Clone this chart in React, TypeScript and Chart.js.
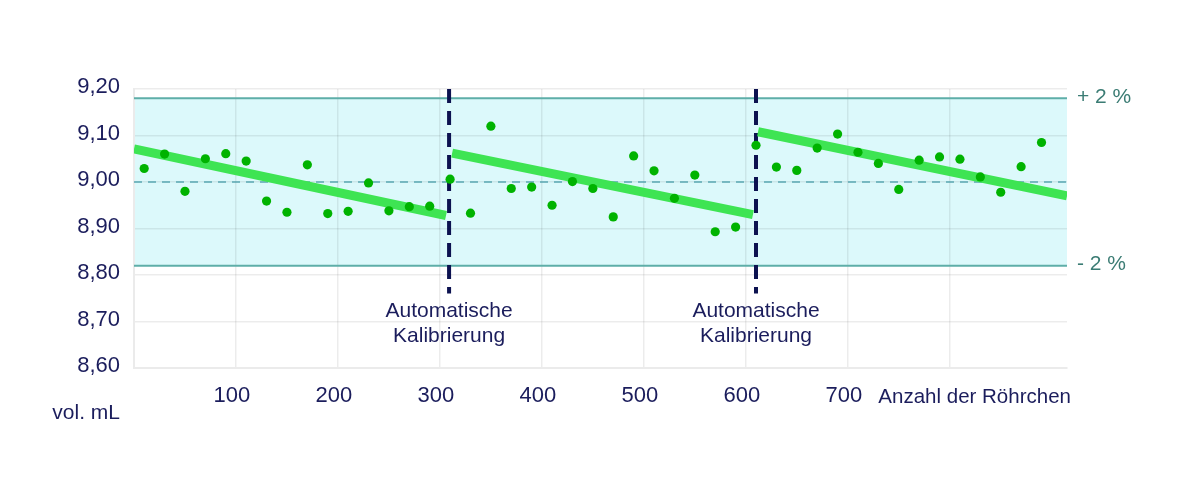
import React, { useEffect, useRef } from "react";
import { Chart, registerables } from "chart.js";

Chart.register(...registerables);

// ---- data ----
const tubeCounts = [10, 30, 50, 70, 90, 110, 130, 150, 170, 190, 210, 230, 250, 270, 290, 310, 330, 350, 370, 390, 410, 430, 450, 470, 490, 510, 530, 550, 570, 590, 610, 630, 650, 670, 690, 710, 730, 750, 770, 790, 810, 830, 850, 870, 890];
const volumes = [9.029, 9.06, 8.98, 9.05, 9.061, 9.045, 8.959, 8.935, 9.037, 8.932, 8.937, 8.998, 8.938, 8.947, 8.948, 9.006, 8.933, 9.12, 8.986, 8.989, 8.95, 9.001, 8.986, 8.925, 9.056, 9.024, 8.965, 9.015, 8.893, 8.903, 9.079, 9.032, 9.025, 9.073, 9.103, 9.064, 9.04, 8.984, 9.047, 9.054, 9.049, 9.011, 8.978, 9.033, 9.085];

const trend1X = [0, 306];
const trend1Y = [9.071, 8.928];
const trend2X = [312, 607];
const trend2Y = [9.062, 8.93];
const trend3X = [612, 915];
const trend3Y = [9.108, 8.97];

const calibrationAt = [309, 610];
const calibrationLabel = ["Automatische", "Kalibrierung"];
const calibrationLineBottom = 8.76;

const targetVolume = 9.0;
const upperLimit = 9.18;
const lowerLimit = 8.82;
const upperLabel = "+ 2 %";
const lowerLabel = "- 2 %";

const yMin = 8.6;
const yMax = 9.2;
const yStep = 0.1;
const xMin = 0;
const xMax = 915;
const xStep = 100;
const xLabeled = [100, 200, 300, 400, 500, 600, 700];
const xTitle = "Anzahl der Röhrchen";
const xTitleAt = 730;
const yTitle = "vol. mL";

const FONT = "'Liberation Sans', Arial, Helvetica, sans-serif";
const NAVY = "#1b1d5c";
const TEAL_TEXT = "#3b7c74";

const toPts = (xs: number[], ys: number[]) => xs.map((x, i) => ({ x, y: ys[i] }));

const overlayPlugin = {
  id: "overlay",
  beforeDraw(chart: any) {
    const { ctx, chartArea, scales } = chart;
    const y = scales.y;
    const yu = y.getPixelForValue(upperLimit);
    const yl = y.getPixelForValue(lowerLimit);
    ctx.save();
    ctx.fillStyle = "#dcf9fb";
    ctx.fillRect(chartArea.left, yu, chartArea.right - chartArea.left, yl - yu);
    ctx.restore();
  },
  beforeDatasetsDraw(chart: any) {
    const { ctx, chartArea, scales } = chart;
    const x = scales.x;
    const y = scales.y;
    ctx.save();
    // limit lines
    ctx.strokeStyle = "#5eaea8";
    ctx.lineWidth = 2;
    [upperLimit, lowerLimit].forEach((v) => {
      const py = y.getPixelForValue(v);
      ctx.beginPath();
      ctx.moveTo(chartArea.left, py);
      ctx.lineTo(chartArea.right, py);
      ctx.stroke();
    });
    // target dashed
    ctx.strokeStyle = "#5aa8b2";
    ctx.lineWidth = 1.5;
    ctx.setLineDash([8, 6]);
    const pt = y.getPixelForValue(targetVolume);
    ctx.beginPath();
    ctx.moveTo(chartArea.left, pt);
    ctx.lineTo(chartArea.right, pt);
    ctx.stroke();
    // calibration lines
    ctx.strokeStyle = "#0c1250";
    ctx.lineWidth = 4;
    ctx.setLineDash([14, 8]);
    calibrationAt.forEach((v) => {
      const px = x.getPixelForValue(v);
      ctx.beginPath();
      ctx.moveTo(px, chartArea.top);
      ctx.lineTo(px, y.getPixelForValue(calibrationLineBottom));
      ctx.stroke();
    });
    ctx.restore();
  },
  afterDraw(chart: any) {
    const { ctx, chartArea, scales } = chart;
    const x = scales.x;
    const y = scales.y;
    ctx.save();
    ctx.font = `21px ${FONT}`;
    ctx.textBaseline = "middle";
    // calibration labels
    ctx.fillStyle = NAVY;
    ctx.textAlign = "center";
    calibrationAt.forEach((v) => {
      const px = x.getPixelForValue(v);
      const base = y.getPixelForValue(calibrationLineBottom);
      calibrationLabel.forEach((t, i) => {
        ctx.fillText(t, px, base + 18 + i * 25);
      });
    });
    // limit labels
    ctx.fillStyle = TEAL_TEXT;
    ctx.textAlign = "left";
    ctx.fillText(upperLabel, chartArea.right + 10, y.getPixelForValue(upperLimit) - 1);
    ctx.fillText(lowerLabel, chartArea.right + 10, y.getPixelForValue(lowerLimit) - 1);
    // axis titles
    ctx.fillStyle = NAVY;
    ctx.font = `20.5px ${FONT}`;
    ctx.textAlign = "left";
    ctx.fillText(xTitle, x.getPixelForValue(xTitleAt), chartArea.bottom + 29);
    ctx.font = `21px ${FONT}`;
    ctx.textAlign = "right";
    ctx.fillText(yTitle, chartArea.left - 14, chartArea.bottom + 45);
    ctx.restore();
  },
};

export default function App() {
  const ref = useRef<HTMLCanvasElement | null>(null);
  useEffect(() => {
    if (!ref.current) return;
    const lineStyle = {
      type: "line" as const,
      borderColor: "#3ee453",
      borderWidth: 9,
      pointRadius: 0,
      borderCapStyle: "butt" as const,
      fill: false,
      order: 1,
    };
    const chart = new Chart(ref.current, {
      type: "scatter",
      data: {
        datasets: [
          {
            type: "scatter",
            data: toPts(tubeCounts, volumes),
            backgroundColor: "#00b300",
            borderWidth: 0,
            pointRadius: 4.6,
            order: 0,
          },
          { ...lineStyle, data: toPts(trend1X, trend1Y) },
          { ...lineStyle, data: toPts(trend2X, trend2Y) },
          { ...lineStyle, data: toPts(trend3X, trend3Y) },
        ] as any,
      },
      options: {
        responsive: false,
        animation: false,
        layout: { padding: { top: 89, right: 133, left: 0, bottom: 0 } },
        plugins: { legend: { display: false }, tooltip: { enabled: false } },
        scales: {
          x: {
            type: "linear",
            min: xMin,
            max: xMax,
            afterFit: (s: any) => {
              s.height = 129;
            },
            ticks: {
              stepSize: xStep,
              color: NAVY,
              font: { family: FONT, size: 22 },
              padding: 15,
              labelOffset: -4,
              maxRotation: 0,
              autoSkip: false,
              callback: (v: any) => (xLabeled.includes(Number(v)) ? String(v) : ""),
            },
            grid: {
              drawTicks: false,
              lineWidth: 1.5,
              color: (c: any) =>
                c.tick && (c.tick.value === 900 || c.tick.value === xMax) ? "rgba(0,0,0,0)" : "rgba(0,0,0,0.075)",
            },
            border: { display: true, color: "#ebebeb", width: 2 },
          },
          y: {
            type: "linear",
            min: yMin,
            max: yMax,
            afterFit: (s: any) => {
              s.width = 134;
            },
            ticks: {
              stepSize: yStep,
              color: NAVY,
              font: { family: FONT, size: 22 },
              padding: 14,
              labelOffset: -2,
              callback: (v: any) => Number(v).toFixed(2).replace(".", ","),
            },
            grid: {
              drawTicks: false,
              lineWidth: 1.5,
              color: "rgba(0,0,0,0.075)",
            },
            border: { display: true, color: "#ebebeb", width: 2 },
          },
        },
      },
      plugins: [overlayPlugin],
    });
    return () => chart.destroy();
  }, []);
  return (
    <div style={{ position: "absolute", left: 0, top: 0, width: 1200, height: 497, background: "#fff" }}>
      <canvas ref={ref} width={1200} height={497} style={{ display: "block" }} />
    </div>
  );
}
